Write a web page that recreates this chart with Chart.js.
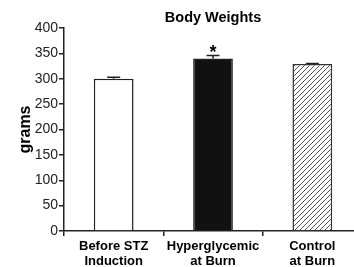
<!DOCTYPE html>
<html><head><meta charset="utf-8">
<script src="https://cdn.jsdelivr.net/npm/chart.js@4"></script>
<style>html,body{margin:0;padding:0;overflow:hidden;background:#fff;width:354px;height:267px}#wrap{width:362px;height:267px}</style>
</head><body><div id="wrap"><canvas id="c" width="362" height="267"></canvas></div>
<script>
const categories = [["Before STZ","Induction"],["Hyperglycemic","at Burn"],["Control","at Burn"]];
const weights = [300, 340, 329];
const errors = [3, 6, 1];
const significance = ["", "*", ""];
const yTicks = [0,50,100,150,200,250,300,350,400];
const chartTitle = "Body Weights";

function hatch(){
  const p = document.createElement('canvas'); p.width = 5; p.height = 5;
  const g = p.getContext('2d');
  g.fillStyle = '#fff'; g.fillRect(0,0,5,5);
  g.strokeStyle = '#555'; g.lineWidth = 1;
  g.beginPath(); g.moveTo(-1,6); g.lineTo(6,-1); g.stroke();
  g.beginPath(); g.moveTo(-1,1); g.lineTo(1,-1); g.stroke();
  g.beginPath(); g.moveTo(4,6); g.lineTo(6,4); g.stroke();
  return document.getElementById('c').getContext('2d').createPattern(p,'repeat');
}

const extras = {
  id:'extras',
  afterDatasetsDraw(chart){
    const ctx = chart.ctx, x = chart.scales.x, y = chart.scales.y;
    ctx.save();
    ctx.strokeStyle = '#222'; ctx.lineWidth = 1.5;
    weights.forEach((v,i)=>{
      const px = x.getPixelForValue(i);
      const y0 = y.getPixelForValue(v), y1 = y.getPixelForValue(v+errors[i]);
      ctx.beginPath(); ctx.moveTo(px,y0); ctx.lineTo(px,y1);
      ctx.moveTo(px-6.5,y1); ctx.lineTo(px+6.5,y1); ctx.stroke();
      if (significance[i]) {
        ctx.fillStyle = '#000'; ctx.font = 'bold 18px "Liberation Sans", Arial, sans-serif';
        ctx.textAlign = 'center'; ctx.textBaseline = 'alphabetic';
        ctx.fillText(significance[i], px, y1 + 3);
      }
    });
    ctx.fillStyle = '#000'; ctx.font = 'bold 14.5px "Liberation Sans", Arial, sans-serif';
    ctx.textAlign = 'center'; ctx.textBaseline = 'middle';
    ctx.fillText(chartTitle, (chart.chartArea.left + chart.chartArea.right)/2, 18);
    ctx.restore();
  }
};

new Chart(document.getElementById('c'), {
  type:'bar',
  data:{ labels: categories, datasets:[{
    data: weights,
    backgroundColor: ['#ffffff','#111111', hatch()],
    borderColor: ['#222','#222','#333'],
    borderWidth: 1.5,
    barPercentage: 0.4, categoryPercentage: 1
  }]},
  options:{
    responsive:false, animation:false, devicePixelRatio:1,
    layout:{padding:{top:28,right:0,left:0,bottom:0}},
    plugins:{legend:{display:false}, tooltip:{enabled:false}, title:{display:false}},
    scales:{
      x:{
        grid:{display:true, drawOnChartArea:false, offset:true, tickLength:5, color:'#222', lineWidth:1.5},
        border:{color:'#222', width:1.5},
        ticks:{color:'#000', font:{family:'"Liberation Sans", Arial, sans-serif', size:13, weight:'bold', lineHeight:1.15}, padding:3, maxRotation:0, autoSkip:false},
        afterFit(s){ s.height = 36; }
      },
      y:{
        min:0, max:400, afterBuildTicks(s){ s.ticks = yTicks.map(v=>({value:v})); },
        grid:{display:true, drawOnChartArea:false, tickLength:5, color:'#222', lineWidth:1.5},
        border:{color:'#222', width:1.5},
        ticks:{color:'#222', font:{family:'"Liberation Sans", Arial, sans-serif', size:14}, padding:1},
        title:{display:true, text:'grams', color:'#000', font:{family:'"Liberation Sans", Arial, sans-serif', size:16, weight:'bold'}, padding:{top:16,bottom:0}},
        afterFit(s){ s.width = 64; }
      }
    }
  },
  plugins:[extras]
});
</script></body></html>
